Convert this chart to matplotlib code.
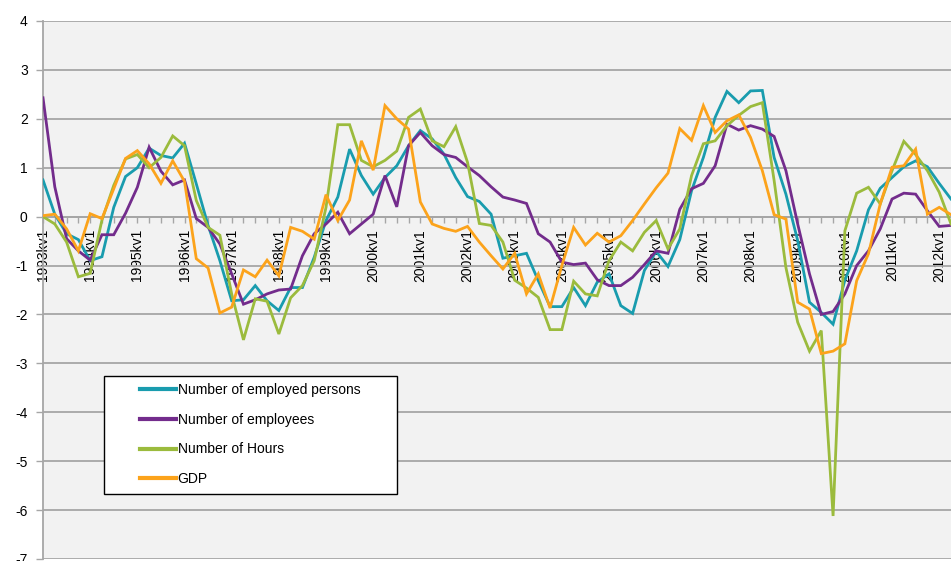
import numpy as np
import matplotlib
matplotlib.use("Agg")
import matplotlib.pyplot as plt
from matplotlib.legend_handler import HandlerLine2D

plt.rcParams["font.family"] = ["Liberation Sans", "DejaVu Sans"]

# Quarterly labels, 1993kv1 .. 2012kv2
quarters = [f"{y}kv{q}" for y in range(1993, 2013) for q in range(1, 5)][:78]

employed_persons = [
    0.75, 0.05, -0.35, -0.47, -0.90, -0.82, 0.19, 0.82, 1.00, 1.40, 1.25, 1.20,
    1.50, 0.67, -0.18, -0.90, -1.72, -1.70, -1.41, -1.72, -1.92, -1.45, -1.45, -0.83,
    -0.08, 0.40, 1.38, 0.84, 0.46, 0.80, 1.04, 1.45, 1.76, 1.59, 1.28, 0.80,
    0.41, 0.31, 0.05, -0.85, -0.80, -0.75, -1.31, -1.84, -1.84, -1.45, -1.82, -1.34,
    -1.17, -1.82, -1.98, -1.10, -0.71, -1.02, -0.47, 0.53, 1.21, 2.03, 2.56, 2.33,
    2.57, 2.58, 1.21, 0.46, -0.49, -1.75, -1.96, -2.20, -1.30, -0.70, 0.14, 0.58,
    0.80, 1.02, 1.14, 1.02, 0.68, 0.36,
]

employees = [
    2.43, 0.61, -0.45, -0.70, -0.89, -0.37, -0.37, 0.07, 0.60, 1.42, 0.93, 0.65,
    0.75, -0.04, -0.22, -0.56, -1.17, -1.79, -1.70, -1.58, -1.50, -1.48, -0.80, -0.35,
    -0.15, 0.09, -0.35, -0.15, 0.05, 0.84, 0.20, 1.45, 1.72, 1.45, 1.27, 1.21,
    1.02, 0.84, 0.61, 0.40, 0.34, 0.27, -0.35, -0.52, -0.93, -0.98, -0.95, -1.29,
    -1.41, -1.41, -1.24, -0.98, -0.70, -0.75, 0.15, 0.57, 0.68, 1.04, 1.89, 1.77,
    1.86, 1.79, 1.64, 0.94, -0.15, -1.17, -2.00, -1.94, -1.58, -1.00, -0.70, -0.25,
    0.36, 0.48, 0.46, 0.12, -0.20, -0.18,
]

hours = [
    0.00, -0.15, -0.52, -1.23, -1.16, -0.07, 0.64, 1.18, 1.27, 1.00, 1.21, 1.65,
    1.45, 0.33, -0.22, -0.38, -1.58, -2.52, -1.68, -1.73, -2.40, -1.66, -1.41, -0.90,
    0.19, 1.88, 1.88, 1.15, 1.02, 1.15, 1.34, 2.03, 2.20, 1.55, 1.43, 1.84,
    1.11, -0.14, -0.18, -0.52, -1.30, -1.46, -1.65, -2.31, -2.31, -1.32, -1.58, -1.62,
    -0.90, -0.52, -0.70, -0.32, -0.08, -0.66, -0.25, 0.84, 1.49, 1.55, 1.86, 2.07,
    2.25, 2.33, 0.74, -1.04, -2.16, -2.75, -2.33, -6.12, -0.29, 0.48, 0.60, 0.26,
    0.94, 1.54, 1.27, 0.94, 0.50, -0.15,
]

gdp = [
    0.02, 0.05, -0.25, -0.70, 0.06, -0.04, 0.57, 1.19, 1.35, 1.08, 0.68, 1.14,
    0.72, -0.86, -1.05, -1.97, -1.85, -1.09, -1.23, -0.89, -1.21, -0.22, -0.30, -0.46,
    0.45, -0.08, 0.34, 1.55, 0.95, 2.27, 2.00, 1.79, 0.30, -0.15, -0.24, -0.30,
    -0.20, -0.52, -0.80, -1.07, -0.75, -1.58, -1.17, -1.87, -1.00, -0.22, -0.58, -0.34,
    -0.52, -0.39, -0.08, 0.26, 0.59, 0.89, 1.80, 1.56, 2.27, 1.72, 1.96, 2.08,
    1.62, 0.94, 0.04, -0.05, -1.75, -1.89, -2.80, -2.75, -2.60, -1.31, -0.76, 0.26,
    1.01, 1.04, 1.38, 0.05, 0.19, 0.04,
]

series_names = ["Number of employed persons", "Number of employees",
                "Number of Hours", "GDP"]
series_colors = ["#199CAE", "#732C8C", "#9BBB3D", "#FCA31B"]
y_ticks = [4, 3, 2, 1, 0, -1, -2, -3, -4, -5, -6, -7]


class ShortLineHandler(HandlerLine2D):
    """Legend line drawn only over the right part of the handle box."""
    def get_xdata(self, legend, xdescent, ydescent, width, height, fontsize):
        _, xm = super().get_xdata(legend, xdescent, ydescent, width, height, fontsize)
        return np.array([-xdescent + width * 0.44, -xdescent + width]), xm


W, H = 951, 561
fig = plt.figure(figsize=(W / 100, H / 100), dpi=100)
ax_left, ax_right, ax_top, ax_bottom = 43, 951, 21, 559
ax_w, ax_h = ax_right - ax_left, ax_bottom - ax_top
ax = fig.add_axes([ax_left / W, 1 - ax_bottom / H, ax_w / W, ax_h / H])
ax.set_facecolor("#F2F2F2")

x = np.arange(len(quarters))
data = [employed_persons, employees, hours, gdp]
handles = []
for vals, name, col in zip(data, series_names, series_colors):
    ln, = ax.plot(x, vals, color=col, lw=2.0, label=name,
                  solid_joinstyle="miter", zorder=3)
    handles.append(ln)

ax.set_ylim(-7, 4)
ax.set_xlim(0, 76.95)

# horizontal grid
ax.set_yticks(y_ticks)
ax.set_yticklabels([str(v) for v in y_ticks])
ax.yaxis.grid(True, color="#A6A6A6", lw=1.3, zorder=1)
ax.set_axisbelow(True)

# category axis sits on the zero line
for s in ["top", "right"]:
    ax.spines[s].set_visible(False)
ax.spines["bottom"].set_position(("data", 0))
ax.spines["bottom"].set_color("#A6A6A6")
ax.spines["bottom"].set_linewidth(1.3)
ax.spines["left"].set_color("#A6A6A6")
ax.spines["left"].set_linewidth(1.3)

ax.set_xticks(x[::4])
ax.set_xticklabels(quarters[::4], rotation=90, va="top", ha="center")
ax.set_xticks(x, minor=True)
ax.tick_params(axis="x", which="both", direction="out", length=4,
               color="#A6A6A6", width=1.0, labelsize=10, pad=5)
ax.tick_params(axis="y", direction="out", length=5, color="#A6A6A6",
               width=1.0, labelsize=10, pad=6)

leg_top, leg_left, leg_width = 375.7, 104, 293
bb_h = 0.01
leg = ax.legend(handles=handles, labels=series_names,
                loc="upper left", mode="expand",
                bbox_to_anchor=((leg_left - ax_left) / ax_w,
                                (ax_bottom - leg_top) / ax_h - bb_h,
                                leg_width / ax_w, bb_h),
                fontsize=10, frameon=True, fancybox=False, framealpha=1,
                edgecolor="black", facecolor="white",
                handlelength=4.6, handletextpad=0.15, labelspacing=1.12,
                borderpad=0.55, borderaxespad=0,
                handler_map={matplotlib.lines.Line2D: ShortLineHandler()})
leg.get_frame().set_linewidth(1.0)
for lh in leg.get_lines():
    lh.set_linewidth(3.0)

fig.savefig("out.png", dpi=100, facecolor="white")
